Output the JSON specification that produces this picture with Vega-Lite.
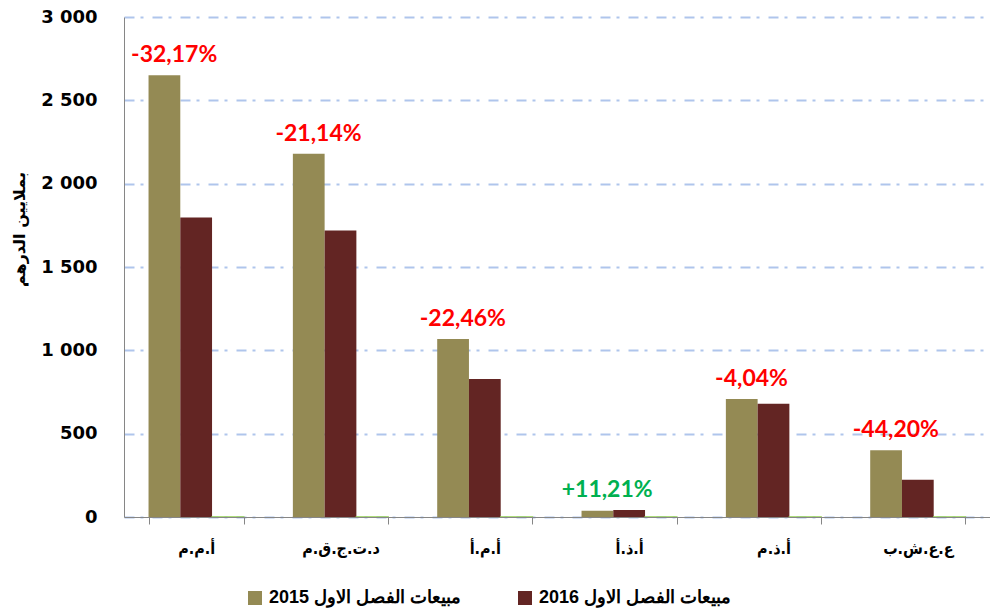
{
  "$schema": "https://vega.github.io/schema/vega-lite/v6.json",
  "width": 866,
  "height": 500,
  "autosize": {"type": "none"},
  "padding": {"left": 124, "top": 17, "right": 0, "bottom": 97},
  "background": "white",
  "config": {"view": {"stroke": null}},
  "data": {
    "values": [
      {"cat": "أ.م.م", "series": "مبيعات الفصل الاول 2015", "value": 2650, "label": "-32,17%"},
      {"cat": "أ.م.م", "series": "مبيعات الفصل الاول 2016", "value": 1797, "label": "-32,17%"},
      {"cat": "أ.م.م", "series": "change", "value": -0.3217, "label": "-32,17%"},
      {"cat": "د.ت.ج.ق.م", "series": "مبيعات الفصل الاول 2015", "value": 2180, "label": "-21,14%"},
      {"cat": "د.ت.ج.ق.م", "series": "مبيعات الفصل الاول 2016", "value": 1719, "label": "-21,14%"},
      {"cat": "د.ت.ج.ق.م", "series": "change", "value": -0.2114, "label": "-21,14%"},
      {"cat": "أ.م.أ", "series": "مبيعات الفصل الاول 2015", "value": 1068, "label": "-22,46%"},
      {"cat": "أ.م.أ", "series": "مبيعات الفصل الاول 2016", "value": 828, "label": "-22,46%"},
      {"cat": "أ.م.أ", "series": "change", "value": -0.2246, "label": "-22,46%"},
      {"cat": "أ.ذ.أ", "series": "مبيعات الفصل الاول 2015", "value": 38, "label": "+11,21%"},
      {"cat": "أ.ذ.أ", "series": "مبيعات الفصل الاول 2016", "value": 42, "label": "+11,21%"},
      {"cat": "أ.ذ.أ", "series": "change", "value": 0.1121, "label": "+11,21%"},
      {"cat": "أ.ذ.م", "series": "مبيعات الفصل الاول 2015", "value": 708, "label": "-4,04%"},
      {"cat": "أ.ذ.م", "series": "مبيعات الفصل الاول 2016", "value": 679, "label": "-4,04%"},
      {"cat": "أ.ذ.م", "series": "change", "value": -0.0404, "label": "-4,04%"},
      {"cat": "ع.ع.ش.ب", "series": "مبيعات الفصل الاول 2015", "value": 400, "label": "-44,20%"},
      {"cat": "ع.ع.ش.ب", "series": "مبيعات الفصل الاول 2016", "value": 223, "label": "-44,20%"},
      {"cat": "ع.ع.ش.ب", "series": "change", "value": -0.4420, "label": "-44,20%"}
    ]
  },
  "encoding": {
    "x": {
      "field": "cat",
      "type": "nominal",
      "scale": {
        "domain": ["أ.م.م", "د.ت.ج.ق.م", "أ.م.أ", "أ.ذ.أ", "أ.ذ.م", "ع.ع.ش.ب"],
        "paddingInner": 0.34,
        "paddingOuter": 0.17
      },
      "axis": {
        "title": null,
        "labelAngle": 0,
        "domainColor": "#868686",
        "tickColor": "#868686",
        "tickBand": "extent",
        "tickSize": 7,
        "labelFont": "DejaVu Sans Condensed",
        "labelFontWeight": "bold",
        "labelFontSize": 16,
        "labelColor": "#000000",
        "labelPadding": 16,
        "zindex": 1
      }
    }
  },
  "layer": [
    {
      "transform": [{"filter": "datum.series != 'change'"}],
      "mark": {"type": "bar"},
      "encoding": {
        "xOffset": {
          "field": "series",
          "type": "nominal",
          "scale": {
            "domain": ["مبيعات الفصل الاول 2015", "مبيعات الفصل الاول 2016", "change"],
            "paddingInner": 0,
            "paddingOuter": 0
          }
        },
        "y": {
          "field": "value",
          "type": "quantitative",
          "scale": {"domain": [0, 3000], "nice": false},
          "axis": {
            "values": [0, 500, 1000, 1500, 2000, 2500, 3000],
            "labelExpr": "replace(format(datum.value, ',.0f'), ',', ' ')",
            "domain": true,
            "domainColor": "#868686",
            "ticks": false,
            "grid": true,
            "gridColor": "#AFC5EC",
            "gridDash": [10, 6, 3, 9],
            "gridWidth": 2,
            "labelFont": "DejaVu Sans",
            "labelFontWeight": "bold",
            "labelFontSize": 18,
            "labelColor": "#000000",
            "labelPadding": 27,
            "title": "بملايين الدرهم",
            "titleFont": "DejaVu Sans",
            "titleFontWeight": "bold",
            "titleFontSize": 16,
            "titleColor": "#000000",
            "titleAngle": 270,
            "titleX": -105,
            "titleY": 212,
            "titleAlign": "center",
            "titleBaseline": "middle"
          }
        },
        "color": {
          "field": "series",
          "type": "nominal",
          "scale": {
            "domain": ["مبيعات الفصل الاول 2015", "مبيعات الفصل الاول 2016"],
            "range": ["#948A54", "#632523"]
          },
          "legend": {
            "title": null,
            "orient": "none",
            "legendX": 122,
            "legendY": 572,
            "direction": "horizontal",
            "symbolType": "square",
            "symbolSize": 196,
            "symbolStrokeWidth": 0,
            "labelFont": "Liberation Sans",
            "labelFontSize": 18,
            "labelFontWeight": "bold",
            "labelColor": "#000000",
            "labelLimit": 400,
            "labelOffset": 5,
            "columnPadding": 54
          }
        }
      }
    },
    {
      "transform": [{"filter": "datum.series == 'change'"}],
      "mark": {"type": "bar", "color": "#92D050", "stroke": "#92D050", "strokeWidth": 1.5},
      "encoding": {
        "xOffset": {"field": "series", "type": "nominal"},
        "y": {"field": "value", "type": "quantitative"}
      }
    },
    {
      "transform": [
        {"filter": "datum.series != 'change'"},
        {"aggregate": [{"op": "max", "field": "value", "as": "top"}], "groupby": ["cat", "label"]}
      ],
      "mark": {
        "type": "text",
        "font": "Lato",
        "fontWeight": "bold",
        "fontSize": 23,
        "dx": -22,
        "dy": -13,
        "baseline": "alphabetic"
      },
      "encoding": {
        "y": {"field": "top", "type": "quantitative"},
        "text": {"field": "label"},
        "color": {
          "condition": {"test": "indexof(datum.label, '+') == 0", "value": "#00B050"},
          "value": "#FF0000"
        }
      }
    }
  ]
}
